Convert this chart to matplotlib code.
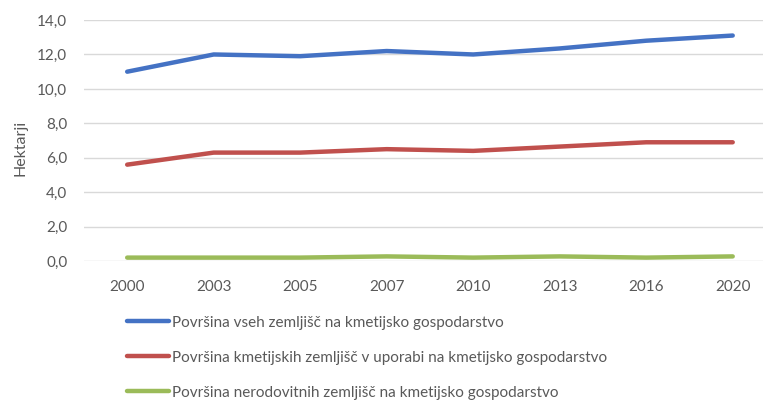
import matplotlib.pyplot as plt

plt.rcParams['font.family'] = ['Lato', 'DejaVu Sans']

years = ['2000', '2003', '2005', '2007', '2010', '2013', '2016', '2020']
vse = [11.0, 12.0, 11.9, 12.2, 12.0, 12.35, 12.8, 13.1]
kmetijske = [5.6, 6.3, 6.3, 6.5, 6.4, 6.65, 6.9, 6.9]
nerodovitne = [0.2, 0.2, 0.2, 0.27, 0.2, 0.27, 0.2, 0.27]

labels = ['Površina vseh zemljišč na kmetijsko gospodarstvo',
          'Površina kmetijskih zemljišč v uporabi na kmetijsko gospodarstvo',
          'Površina nerodovitnih zemljišč na kmetijsko gospodarstvo']
colors = ['#4472C4', '#C0504D', '#9BBB59']
grey = '#595959'

fig = plt.figure(figsize=(7.63, 4.01), dpi=100)
ax = fig.add_axes([0.110, 0.349, 0.907, 0.601])

x = range(len(years))
for vals, lab, col in zip([vse, kmetijske, nerodovitne], labels, colors):
    ax.plot(x, vals, color=col, lw=3.2, label=lab, solid_capstyle='round')

ax.set_xlim(-0.5, 7.5)
ax.set_ylim(0, 14)
ax.set_yticks([0, 2, 4, 6, 8, 10, 12, 14])
ax.set_yticklabels([f'{v:.1f}'.replace('.', ',') for v in range(0, 15, 2)])
ax.set_xticks(list(x))
ax.set_xticklabels(years)
ax.tick_params(length=0, labelsize=11, colors=grey)
ax.tick_params(axis='y', pad=12)
ax.tick_params(axis='x', pad=14)
ax.grid(axis='y', color='#D9D9D9', lw=1)
ax.set_axisbelow(True)
for s in ax.spines.values():
    s.set_visible(False)
ax.set_ylabel('Hektarji', color=grey, fontsize=11.5)
ax.yaxis.set_label_coords(-0.082, 0.47)

fig.legend(loc='upper left', bbox_to_anchor=(0.166, 0.213), frameon=False,
           fontsize=11, handlelength=2.8, handletextpad=0.2,
           labelspacing=1.38, borderpad=0, borderaxespad=0,
           labelcolor=grey)

fig.savefig('out.png', dpi=100)
